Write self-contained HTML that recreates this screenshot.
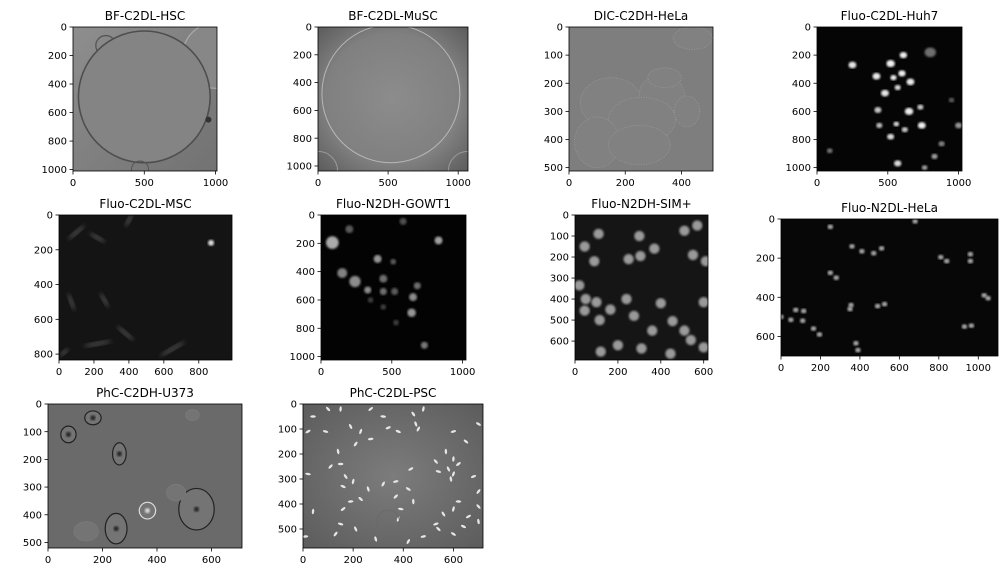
<!DOCTYPE html>
<html><head><meta charset="utf-8">
<style>
html,body{margin:0;padding:0;background:#fff;}
svg{display:block;font-family:"DejaVu Sans","Liberation Sans",sans-serif;}
</style></head>
<body>
<svg id="fig" width="1008" height="576" viewBox="0 0 1008 576" xmlns="http://www.w3.org/2000/svg">
<defs>
<filter id="blur1"><feGaussianBlur stdDeviation="1"/></filter>
<filter id="blur2"><feGaussianBlur stdDeviation="2.5"/></filter>
<linearGradient id="gHSC" x1="0" y1="0" x2="1" y2="1"><stop offset="0" stop-color="#8e8e8e"/><stop offset="1" stop-color="#727272"/></linearGradient>
<radialGradient id="gMuSC" cx="0.5" cy="0.5" r="0.75"><stop offset="0" stop-color="#8c8c8c"/><stop offset="0.6" stop-color="#808080"/><stop offset="1" stop-color="#555"/></radialGradient>
<radialGradient id="gPSC" cx="0.5" cy="0.5" r="0.75"><stop offset="0" stop-color="#7c7c7c"/><stop offset="1" stop-color="#5a5a5a"/></radialGradient>
</defs>
</svg>
<script>
// ---- data ----
const panelNames = ["BF-C2DL-HSC","BF-C2DL-MuSC","DIC-C2DH-HeLa","Fluo-C2DL-Huh7","Fluo-C2DL-MSC","Fluo-N2DH-GOWT1","Fluo-N2DH-SIM+","Fluo-N2DL-HeLa","PhC-C2DH-U373","PhC-C2DL-PSC"];
const xDomains = [1010,1070,512,1024,990,1024,620,1100,712,718];
const yDomains = [1010,1036,512,1024,834,1024,690,700,520,576];
const xTicks = [[0,500,1000],[0,500,1000],[0,200,400],[0,500,1000],[0,200,400,600,800],[0,500,1000],[0,200,400,600],[0,200,400,600,800,1000],[0,200,400,600],[0,200,400,600]];
const yTicks = [[0,200,400,600,800,1000],[0,200,400,600,800,1000],[0,100,200,300,400,500],[0,200,400,600,800,1000],[0,200,400,600,800],[0,200,400,600,800,1000],[0,100,200,300,400,500,600],[0,200,400,600],[0,100,200,300,400,500],[0,100,200,300,400,500]];
const huh7Cells = [[250,270,28,230],[520,260,30,240],[610,200,26,240],[420,350,28,235],[540,360,22,240],[600,330,26,240],[660,390,28,235],[570,430,22,220],[480,470,28,230],[430,590,25,200],[650,600,30,235],[730,570,22,200],[440,700,22,190],[560,690,20,220],[740,700,28,240],[620,730,22,200],[520,780,25,220],[880,830,22,130],[1000,700,25,150],[570,970,26,220],[90,880,20,120],[830,920,22,160],[800,180,40,110],[950,520,20,90],[760,1000,20,160]];
const gowt1Cells = [[80,195,45,170],[200,100,28,90],[580,45,25,80],[830,180,28,160],[400,310,28,150],[510,330,20,90],[150,410,35,130],[240,470,40,140],[440,450,28,110],[330,530,25,140],[440,540,25,110],[520,540,25,90],[650,580,28,140],[680,500,25,110],[640,690,30,150],[730,920,25,120],[350,600,20,60],[440,650,20,60],[530,760,20,60]];
const simCells = [[110,90],[570,50],[510,75],[45,150],[300,100],[370,160],[90,220],[250,210],[305,195],[550,190],[610,220],[20,335],[50,400],[100,415],[45,455],[165,450],[240,400],[400,420],[600,415],[115,500],[275,480],[455,505],[360,550],[510,550],[540,595],[120,650],[200,620],[310,635],[445,660],[600,630]];
const helaCells = [[680,12],[250,40],[360,140],[410,165],[470,175],[510,150],[810,195],[840,215],[960,180],[960,215],[250,275],[280,300],[1030,390],[1050,405],[355,440],[490,445],[525,435],[350,460],[0,500],[50,515],[75,465],[115,470],[110,520],[165,560],[195,590],[930,550],[965,545],[380,635],[390,670]];
const pscCells = [[40,50],[100,20],[150,20],[270,20],[320,50],[440,40],[480,20],[20,110],[90,110],[190,90],[230,110],[340,95],[380,110],[450,80],[460,100],[600,110],[700,80],[140,190],[210,160],[270,140],[650,150],[570,190],[110,250],[150,240],[530,230],[600,220],[620,240],[20,280],[170,290],[200,310],[430,260],[540,270],[580,260],[600,280],[680,290],[160,330],[260,340],[320,320],[370,310],[420,340],[590,300],[700,350],[190,390],[230,380],[440,390],[370,370],[620,390],[700,410],[40,430],[160,420],[390,420],[560,440],[600,420],[660,450],[150,480],[210,500],[380,460],[530,480],[640,490],[290,540],[420,550],[480,530],[600,520],[700,470],[130,520],[10,530],[540,500]];
const mscStreaks = [[100,100,60,-40],[220,130,50,30],[400,30,40,-60],[70,500,50,70],[260,490,45,60],[380,680,60,40],[220,740,80,-10],[650,770,80,-30],[30,790,30,-40]];
const dicCells = [[150,270,110,90],[330,240,80,70],[260,330,120,80],[100,410,80,90],[250,420,110,70],[420,300,45,55],[440,40,70,40],[340,180,60,35]];
const u373Cells = [[75,110,28,30,1],[165,50,30,25,1],[262,180,25,40,1],[530,40,25,20,0],[545,380,65,75,1],[250,450,40,55,1],[365,385,30,30,2],[140,460,45,35,0],[470,320,35,30,0]];

// ---- layout ----
const boxes = [[73,27,144,144],[318,27,150,144],[569,27,144,144],[817,27,145,144],[59,215,173,145],[321,215,145,145],[575,215,133,145],[781,219,217,137],[48,404,194,144],[303,404,180,144]];
const NS="http://www.w3.org/2000/svg";
const svg=document.getElementById('fig');
function mk(tag,attrs,parent){const e=document.createElementNS(NS,tag);for(const k in attrs)e.setAttribute(k,attrs[k]);(parent||svg).appendChild(e);return e;}
function gray(v){return `rgb(${v},${v},${v})`;}

panelNames.forEach((name,i)=>{
  const [bx,by,bw,bh]=boxes[i];
  const sx=v=>bx+v/xDomains[i]*bw, sy=v=>by+v/yDomains[i]*bh;
  const kx=bw/xDomains[i], ky=bh/yDomains[i];
  const g=mk('g',{});
  
  
  const clipId='clip'+i;
  const cp=mk('clipPath',{id:clipId},g);mk('rect',{x:bx,y:by,width:bw,height:bh},cp);
  const img=mk('g',{'clip-path':`url(#${clipId})`},g);
  
  
  const bgs=['url(#gHSC)','url(#gMuSC)','#7e7e7e','#050505','#141414','#030303','#151515','#070707','#6a6a6a','url(#gPSC)'];
  mk('rect',{x:bx,y:by,width:bw,height:bh,fill:bgs[i]},img);
  if(i===0){
    mk('circle',{cx:sx(1000),cy:sy(200),r:230*kx,fill:'#878787',stroke:'#aaa','stroke-width':1.2},img);
    mk('circle',{cx:sx(230),cy:sy(130),r:70*kx,fill:'#888',stroke:'#555','stroke-width':1.3},img);
    mk('circle',{cx:sx(500),cy:sy(490),r:462*kx,fill:'#848484',stroke:'#4e4e4e','stroke-width':1.6},img);
    mk('circle',{cx:sx(470),cy:sy(1000),r:60*kx,fill:'none',stroke:'#555','stroke-width':1},img);
    mk('circle',{cx:sx(950),cy:sy(650),r:3,fill:'#333'},img);
  } else if(i===1){
    mk('circle',{cx:sx(520),cy:sy(480),r:492*kx,fill:'none',stroke:'#b8b8b8','stroke-width':1},img);
    mk('circle',{cx:sx(0),cy:sy(1036),r:140*kx,fill:'none',stroke:'#999','stroke-width':1},img);
    mk('circle',{cx:sx(1070),cy:sy(1036),r:140*kx,fill:'none',stroke:'#999','stroke-width':1},img);
  } else if(i===2){
    dicCells.forEach(c=>{mk('ellipse',{cx:sx(c[0]),cy:sy(c[1]),rx:c[2]*kx,ry:c[3]*ky,fill:'#818181',stroke:'#9a9a9a','stroke-width':0.8,'stroke-dasharray':'1 1.5'},img);});
  } else if(i===3){
    huh7Cells.forEach(c=>{mk('ellipse',{cx:sx(c[0]),cy:sy(c[1]),rx:c[2]*kx,ry:c[2]*ky*0.85,fill:gray(c[3]),filter:'url(#blur1)'},img);});
  } else if(i===4){
    mscStreaks.forEach(s=>{mk('ellipse',{cx:sx(s[0]),cy:sy(s[1]),rx:s[2]*kx,ry:12*ky,fill:'#4a4a4a',transform:`rotate(${s[3]} ${sx(s[0])} ${sy(s[1])})`,filter:'url(#blur2)'},img);});
    mk('circle',{cx:sx(870),cy:sy(160),r:3,fill:'#ddd',filter:'url(#blur1)'},img);
  } else if(i===5){
    gowt1Cells.forEach(c=>{mk('circle',{cx:sx(c[0]),cy:sy(c[1]),r:c[2]*kx,fill:gray(c[3]),filter:'url(#blur1)'},img);});
  } else if(i===6){
    simCells.forEach(c=>{mk('circle',{cx:sx(c[0]),cy:sy(c[1]),r:24*kx,fill:'#9a9a9a',filter:'url(#blur1)'},img);});
  } else if(i===7){
    helaCells.forEach(c=>{mk('ellipse',{cx:sx(c[0]),cy:sy(c[1]),rx:14*kx,ry:12*ky,fill:'#aaa',filter:'url(#blur1)'},img);});
  } else if(i===8){
    u373Cells.forEach(c=>{const col=c[4]===1?'#222':(c[4]===2?'#ddd':'#7a7a7a');
      mk('ellipse',{cx:sx(c[0]),cy:sy(c[1]),rx:c[2]*kx,ry:c[3]*ky,fill:'#747474',stroke:col,'stroke-width':c[4]===0?0.8:1.2},img);
      if(c[4]!==0)mk('circle',{cx:sx(c[0]),cy:sy(c[1]),r:2.5,fill:c[4]===2?'#ddd':'#222',filter:'url(#blur1)'},img);});
  } else if(i===9){
    pscCells.forEach((c,j)=>{mk('ellipse',{cx:sx(c[0]),cy:sy(c[1]),rx:2.8,ry:1.2,fill:'#e6e6e6',transform:`rotate(${(j*47)%180} ${sx(c[0])} ${sy(c[1])})`},img);});
    mk('circle',{cx:sx(340),cy:sy(470),r:45*kx,fill:'none',stroke:'#6a6a6a','stroke-width':1},img);
  }
  const frame=mk('rect',{x:bx,y:by,width:bw,height:bh,fill:'none',stroke:'#000','stroke-width':0.8},g);
  
  
  const t=mk('text',{x:bx+bw/2,y:by-7,'text-anchor':'middle','font-size':12,fill:'#000'},g);
  t.textContent=name;
  
  
  xTicks[i].forEach(v=>{
    mk('line',{x1:sx(v),x2:sx(v),y1:by+bh,y2:by+bh+3.5,stroke:'#000','stroke-width':0.8},g);
    const l=mk('text',{x:sx(v),y:by+bh+15,'text-anchor':'middle','font-size':10,fill:'#000'},g);
    l.textContent=v;
    
    
  });
  yTicks[i].forEach(v=>{
    mk('line',{x1:bx-3.5,x2:bx,y1:sy(v),y2:sy(v),stroke:'#000','stroke-width':0.8},g);
    const l=mk('text',{x:bx-6,y:sy(v)+3.6,'text-anchor':'end','font-size':10,fill:'#000'},g);
    l.textContent=v;
    
    
  });
});
</script>
</body></html>
